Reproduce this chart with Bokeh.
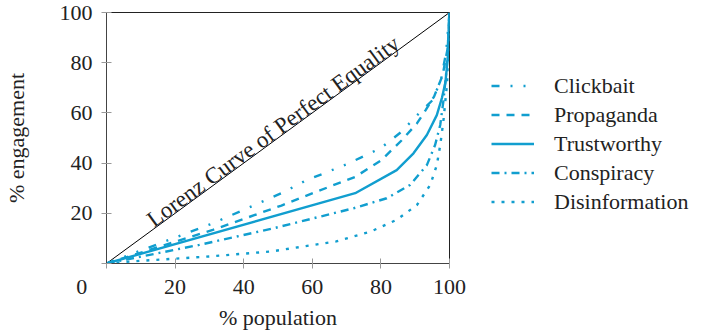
from bokeh.plotting import figure
from bokeh.models import Legend, LegendItem, Label, FixedTicker, Range1d
from bokeh.embed import file_html
from bokeh.resources import INLINE
import math

# ---- data ----
series_names = ["Clickbait", "Propaganda", "Trustworthy", "Conspiracy", "Disinformation"]

clickbait_x = [0, 31, 51, 58, 70, 80, 86, 90.5, 95, 97.5, 99, 100]
clickbait_y = [0, 16, 28, 33, 39.5, 46, 52.5, 59, 65, 73, 84, 100]

propaganda_x = [0, 31, 51, 65, 72.5, 80, 86, 90.5, 93, 95.5, 98, 99.5, 100]
propaganda_y = [0, 13.4, 23.1, 30.6, 34.5, 41, 49, 55.8, 61, 66.5, 75, 86, 100]

trustworthy_x = [0, 72.5, 84.6, 89.5, 93.4, 96.3, 97.8, 98.8, 99.5, 100]
trustworthy_y = [0, 28, 37.2, 43.9, 51.2, 59.1, 66, 72, 82, 100]

conspiracy_x = [0, 27, 48.6, 72, 81.7, 88.5, 93.4, 95.8, 97.3, 98.2, 99.2, 100]
conspiracy_y = [0, 7.4, 14, 22, 26, 31.3, 39.2, 47.2, 55.2, 64.5, 78, 100]

disinformation_x = [0, 7, 30, 48, 67, 77, 84.6, 90.5, 94.4, 96.3, 97.3, 98.2, 99.3, 100]
disinformation_y = [0, 0.8, 2.8, 4.8, 8.8, 12.7, 17.4, 23.3, 31.3, 39.2, 47.2, 56.5, 72, 100]

equality_x = [0, 100]
equality_y = [0, 100]

tick_values = [0, 20, 40, 60, 80, 100]
x_tick_labels = {0: "0" + "\u00a0" * 9, 20: "20", 40: "40", 60: "60", 80: "80", 100: "100"}
y_tick_labels = {0: "", 20: "20", 40: "40", 60: "60", 80: "80", 100: "100"}
x_title = "% population"
y_title = "% engagement"
equality_title = "Lorenz Curve of Perfect Equality"

# ---- styles ----
COLOR = "#119ecf"
FONT = "Liberation Serif"
TXT = "#222222"
dashes = {
    "Clickbait": "8 11 2 11 2 11",
    "Propaganda": "8 7",
    "Trustworthy": "solid",
    "Conspiracy": "8 5 2 5",
    "Disinformation": "3 7",
}

p = figure(frame_width=343, frame_height=251, output_backend="svg", toolbar_location=None,
           x_range=Range1d(0, 100), y_range=Range1d(0, 100),
           min_border_left=99, min_border_right=251, min_border_top=12, min_border_bottom=55)
p.xgrid.visible = False
p.ygrid.visible = False
p.outline_line_color = "#222222"
p.outline_line_width = 1
p.background_fill_color = "white"
p.border_fill_color = "white"

for ax in (p.xaxis[0], p.yaxis[0]):
    ax.ticker = FixedTicker(ticks=tick_values)
    ax.major_label_text_font = FONT
    ax.major_label_text_font_size = "22px"
    ax.major_label_text_color = TXT
    ax.axis_label_text_font = FONT
    ax.axis_label_text_font_size = "22px"
    ax.axis_label_text_font_style = "normal"
    ax.axis_label_text_color = TXT
    ax.axis_line_color = "#444444"
    ax.major_tick_line_color = "#999999"
    ax.major_tick_in = 5
    ax.major_tick_out = 5
    ax.minor_tick_line_color = None

p.xaxis.major_label_overrides = x_tick_labels
p.yaxis.major_label_overrides = y_tick_labels
p.xaxis.major_label_standoff = 5
p.yaxis.major_label_standoff = 9
p.xaxis.axis_label = x_title
p.yaxis.axis_label = y_title
p.xaxis.axis_label_standoff = 3
p.yaxis.axis_label_standoff = 28

# equality line
p.line(equality_x, equality_y, line_color="black", line_width=1)

xs = [clickbait_x, propaganda_x, trustworthy_x, conspiracy_x, disinformation_x]
ys = [clickbait_y, propaganda_y, trustworthy_y, conspiracy_y, disinformation_y]
items = []
for name, x, y in zip(series_names, xs, ys):
    r = p.line(x, y, line_color=COLOR, line_width=2.4, line_dash=dashes[name])
    items.append(LegendItem(label=name, renderers=[r]))

legend = Legend(items=items, location=(42, 47))
legend.padding = 0
legend.margin = 0
legend.spacing = 0
legend.glyph_width = 43
legend.glyph_height = 29
legend.label_height = 29
legend.label_standoff = 20
legend.label_text_font = FONT
legend.label_text_font_size = "22px"
legend.label_text_color = TXT
legend.border_line_color = None
legend.background_fill_alpha = 0
p.add_layout(legend, "right")

ang = math.atan2(251.0, 343.0)
p.add_layout(Label(x=48.6, y=52.6, text=equality_title, angle=ang, text_align="center",
                   text_baseline="alphabetic", text_font=FONT, text_font_size="23px",
                   text_color=TXT))

open("out.html", "w").write(file_html(p, INLINE))
